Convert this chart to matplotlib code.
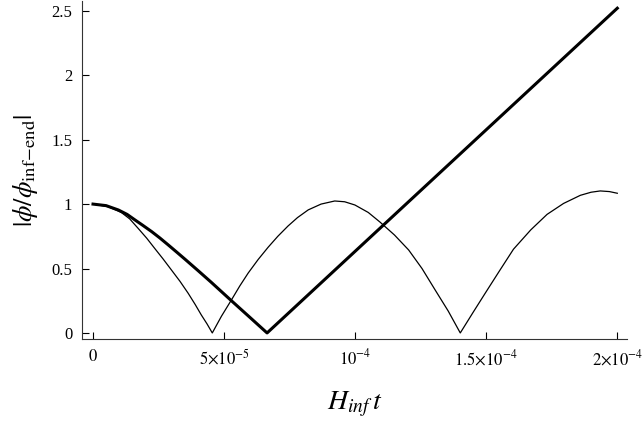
import matplotlib
matplotlib.use("Agg")
import matplotlib.pyplot as plt

plt.rcParams["font.family"] = ["Liberation Serif", "DejaVu Serif"]
plt.rcParams["mathtext.fontset"] = "stix"

# values, time in units of 1e-5
t_thin = [0, 0.57, 1.08, 1.4, 1.72, 2.05, 2.35, 2.67, 2.99, 3.32, 3.63, 3.9,
          4.13, 4.35, 4.55, 4.9, 5.28, 5.6, 5.92, 6.3, 6.68, 7.05, 7.44, 7.8,
          8.21, 8.7, 9.22, 9.6, 9.99, 10.5, 10.95, 11.5, 12.04, 12.55, 13.05,
          13.55, 14.01, 14.5, 14.96, 15.5, 16.04, 16.7, 17.32, 17.95, 18.59,
          19.0, 19.35, 19.7, 20.0]
v_thin = [1.0, 0.98, 0.935, 0.885, 0.812, 0.735, 0.657, 0.575, 0.489, 0.4,
          0.308, 0.22, 0.14, 0.07, 0.0, 0.13, 0.256, 0.365, 0.465, 0.57, 0.665,
          0.75, 0.83, 0.895, 0.955, 1.0, 1.024, 1.018, 0.993, 0.935, 0.86,
          0.76, 0.644, 0.5, 0.334, 0.17, 0.0, 0.16, 0.308, 0.48, 0.65, 0.8,
          0.92, 1.005, 1.068, 1.092, 1.102, 1.097, 1.084]

t_thick = [0, 0.5, 0.97, 1.3, 1.6, 1.9, 2.24, 2.55, 2.87, 3.2, 3.51, 4.0, 4.5,
           5.28, 6.0, 6.64, 20.0]
v_thick = [1.0, 0.988, 0.954, 0.92, 0.877, 0.835, 0.786, 0.737, 0.683, 0.626,
           0.572, 0.485, 0.395, 0.25, 0.118, 0.0, 2.52]

xticks = [0, 5e-5, 1e-4, 1.5e-4, 2e-4]
xtick_labels = ["$0$", r"$5{\times}10^{-5}$", "$10^{-4}$",
                r"$1.5{\times}10^{-4}$", r"$2{\times}10^{-4}$"]
yticks = [0, 0.5, 1, 1.5, 2, 2.5]
ytick_labels = ["0", "0.5", "1", "1.5", "2", "2.5"]

fig = plt.figure(figsize=(6.43, 4.23), dpi=100)
ax = fig.add_axes([82 / 643, 84 / 423, (627 - 82) / 643, (422 - 84) / 423])

ax.plot([t * 1e-5 for t in t_thin], v_thin, color="black", lw=0.9)
ax.plot([t * 1e-5 for t in t_thick], v_thick, color="black", lw=2.2)

ax.set_xlim(-0.42e-5, 20.37e-5)
ax.set_ylim(-0.047, 2.576)

for s in ["top", "right"]:
    ax.spines[s].set_visible(False)
for s in ["left", "bottom"]:
    ax.spines[s].set_linewidth(0.8)
    ax.spines[s].set_color("#333333")

ax.set_xticks(xticks)
ax.set_xticklabels(xtick_labels)
ax.set_yticks(yticks)
ax.set_yticklabels(ytick_labels)
ax.tick_params(direction="in", length=5, width=0.8, labelsize=12, pad=7)

ax.set_xlabel(r"$H_{inf}\,t$", fontsize=20, labelpad=15)
ax.set_ylabel(r"$|\phi/\phi_{\mathrm{inf}\!-\!\mathrm{end}}|$", fontsize=19, labelpad=8)

fig.savefig("out.png", dpi=100)
